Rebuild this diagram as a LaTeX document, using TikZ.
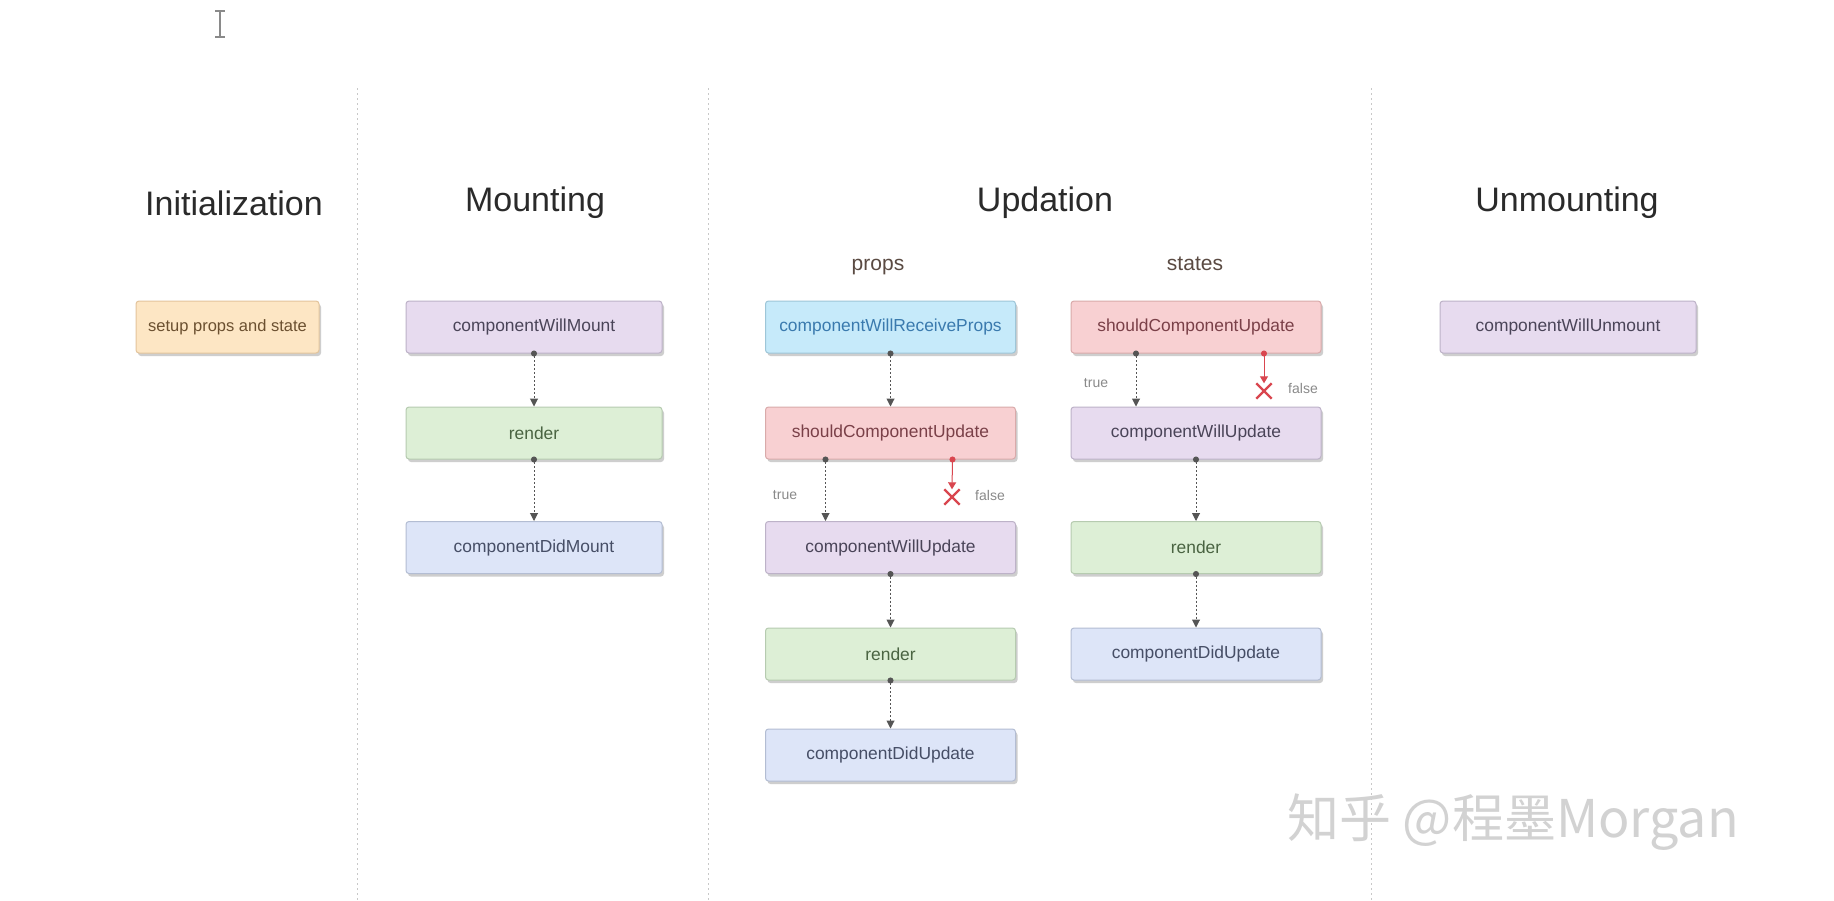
\documentclass[tikz,border=0pt]{standalone}
\usepackage{fontspec}
\setmainfont{Liberation Sans}
\newfontfamily\cjk{Noto Sans CJK SC}
\usetikzlibrary{arrows.meta,shadows,shapes.misc}
\definecolor{setupF}{HTML}{FDE6C4}\definecolor{setupD}{HTML}{E3C49C}\definecolor{setupT}{HTML}{6B5030}
\definecolor{purpF}{HTML}{E7DBEF}\definecolor{purpD}{HTML}{BDB2C8}\definecolor{purpT}{HTML}{4A4458}
\definecolor{grnF}{HTML}{DDEFD6}\definecolor{grnD}{HTML}{B6CBB0}\definecolor{grnT}{HTML}{4A6442}
\definecolor{bluF}{HTML}{DDE5F8}\definecolor{bluD}{HTML}{B3BDD3}\definecolor{bluT}{HTML}{464E66}
\definecolor{cyaF}{HTML}{C6EAFA}\definecolor{cyaD}{HTML}{9EC6D8}\definecolor{cyaT}{HTML}{3A7AAE}
\definecolor{redF}{HTML}{F8D0D2}\definecolor{redD}{HTML}{D9AAAA}\definecolor{redT}{HTML}{7A4048}
\definecolor{connC}{HTML}{555555}
\definecolor{falseC}{HTML}{D9464F}
\definecolor{titleC}{HTML}{2A2A2A}
\definecolor{subC}{HTML}{5A4A42}
\definecolor{lblC}{HTML}{8A8A8A}
\definecolor{sepC}{HTML}{C8C8C8}
\definecolor{wmC}{HTML}{D2D2D2}
\definecolor{curC}{HTML}{8A8A8A}
\begin{document}
\begin{tikzpicture}[x=1pt,y=-1pt,
  box/.style={rounded corners=3pt, line width=1pt, minimum width=250pt, minimum height=52pt,
    inner sep=0pt, font=\fontsize{17.4}{19}\selectfont,
    drop shadow={shadow xshift=2pt, shadow yshift=-3pt, opacity=.35, fill=black!55}},
  setupbox/.style={box, fill=setupF, draw=setupD, text=setupT},
  purpbox/.style={box, fill=purpF, draw=purpD, text=purpT},
  grnbox/.style={box, fill=grnF, draw=grnD, text=grnT},
  blubox/.style={box, fill=bluF, draw=bluD, text=bluT},
  cyabox/.style={box, fill=cyaF, draw=cyaD, text=cyaT},
  redbox/.style={box, fill=redF, draw=redD, text=redT},
  title/.style={font=\fontsize{34}{38}\selectfont, text=titleC},
  subtitle/.style={font=\fontsize{21}{24}\selectfont, text=subC},
  lbl/.style={font=\fontsize{14}{16}\selectfont, text=lblC},
  conn/.style={draw=connC, line width=1pt, dash pattern=on 2pt off 2pt,
    {Circle[length=6pt]}-{Triangle[length=8pt,width=8pt]}, shorten <=-3pt},
  falseconn/.style={draw=falseC, line width=1pt,
    {Circle[length=6pt]}-{Triangle[length=7pt,width=8pt]}, shorten <=-3pt},
  xmark/.style={cross out, draw=falseC, line width=2.4pt, minimum size=13pt, inner sep=0pt},
  sep/.style={draw=sepC, line width=0.8pt, dash pattern=on 2pt off 3pt}
]
\useasboundingbox[fill=white] (0,0) rectangle (1834,900);

% text cursor
\draw[curC, line width=1.2pt] (220,11) -- (220,37);
\draw[curC, line width=1.2pt] (215,11) -- (225,11);
\draw[curC, line width=1.2pt] (215,37) -- (225,37);

% separators
\coordinate (s1t) at (357,88); \coordinate (s1b) at (357,900);
\coordinate (s2t) at (708,88); \coordinate (s2b) at (708,900);
\coordinate (s3t) at (1371,88); \coordinate (s3b) at (1371,900);
\draw[sep] (s1t) -- (s1b);
\draw[sep] (s2t) -- (s2b);
\draw[sep] (s3t) -- (s3b);

% titles
\node[title] (tInit) at (234,203) {Initialization};
\node[title] (tMount) at (535,203) {Mounting};
\node[title] (tUpd) at (1045,203) {Updation};
\node[title] (tUnm) at (1567,203) {Unmounting};
\node[subtitle] (tProps) at (878,267) {props};
\node[subtitle] (tStates) at (1195,264) {states};

% initialization
\node[setupbox, minimum width=183pt, font=\fontsize{16.5}{18}\selectfont] (setup) at (227.5,327) {setup props and state};

% mounting
\node[purpbox, minimum width=256pt] (cwm) at (534,327) {componentWillMount};
\node[grnbox, minimum width=256pt] (mrender) at (534,433) {render};
\node[blubox, minimum width=256pt] (cdm) at (534,547.5) {componentDidMount};
\draw[conn] (cwm.south) -- (mrender.north);
\draw[conn] (mrender.south) -- (cdm.north);

% updation - props
\node[cyabox] (cwrp) at (890.5,327) {componentWillReceiveProps};
\node[redbox] (pscu) at (890.5,433) {shouldComponentUpdate};
\node[purpbox] (pcwu) at (890.5,547.5) {componentWillUpdate};
\node[grnbox] (prender) at (890.5,654) {render};
\node[blubox] (pcdu) at (890.5,755) {componentDidUpdate};
\draw[conn] (cwrp.south) -- (pscu.north);
\draw[conn] ([xshift=-65pt]pscu.south) -- ([xshift=-65pt]pcwu.north);
\node[lbl] (ptrue) at (785,495) {true};
\node[xmark] (px) at (952,497) {};
\draw[falseconn] ([xshift=62pt]pscu.south) -- (px.north);
\node[lbl] (pfalse) at (990,495) {false};
\draw[conn] (pcwu.south) -- (prender.north);
\draw[conn] (prender.south) -- (pcdu.north);

% updation - states
\node[redbox] (sscu) at (1196,327) {shouldComponentUpdate};
\node[purpbox] (scwu) at (1196,433) {componentWillUpdate};
\node[grnbox] (srender) at (1196,547.5) {render};
\node[blubox] (scdu) at (1196,654) {componentDidUpdate};
\draw[conn] ([xshift=-60pt]sscu.south) -- ([xshift=-60pt]scwu.north);
\node[lbl] (strue) at (1096,383) {true};
\node[xmark] (sx) at (1264,391) {};
\draw[falseconn] ([xshift=68pt]sscu.south) -- (sx.north);
\node[lbl] (sfalse) at (1303,388) {false};
\draw[conn] (scwu.south) -- (srender.north);
\draw[conn] (srender.south) -- (scdu.north);

% unmounting
\node[purpbox, minimum width=256pt] (cwum) at (1568,327) {componentWillUnmount};

% watermark
\node[font=\cjk\fontsize{52}{56}\selectfont, text=wmC] (wm) at (1513,822) {知乎 @程墨Morgan};
\end{tikzpicture}
\end{document}
